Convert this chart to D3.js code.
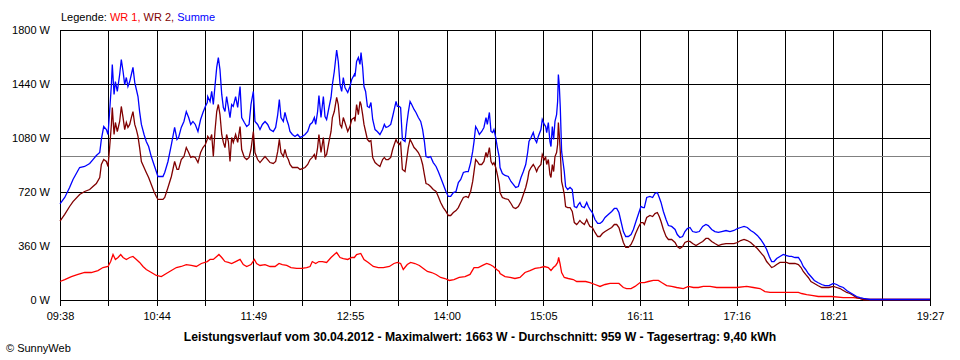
<!DOCTYPE html>
<html><head><meta charset="utf-8">
<script src="https://cdn.jsdelivr.net/npm/d3@7"></script>
<style>
body{margin:0;background:#fff;}
svg{display:block;}
text{font-family:"Liberation Sans",Arial,sans-serif;}
</style></head><body><svg id="chart" width="960" height="360"></svg>
<script>
// ---------- data ----------
const startTime = "09:38";
const endTime = "19:27";
const xTickLabels = ["09:38","10:44","11:49","12:55","14:00","15:05","16:11","17:16","18:21","19:27"];
const yTicks = [0, 360, 720, 1080, 1440, 1800];
const seriesNames = ["WR 1", "WR 2", "Summe"];
const reportDate = "30.04.2012";
const maxValue = 1663;
const average = 959;
const dailyYield = "9,40";

// minutes after start, shared by Summe and WR 2
const tMain = [
0.0,3.2,6.5,8.8,13.3,16.7,20.1,22.3,24.6,26.9,28.0,29.6,31.4,32.5,33.6,34.8,35.4,36.6,37.5,38.8,40.4,41.5,42.7,43.8,44.9,46.0,47.2,48.3,49.4,50.6,51.7,52.8,53.9,55.1,56.9,58.4,60.0,61.8,63.6,65.2,66.3,69.7,70.9,73.1,75.4,77.6,79.2,80.3,82.1,83.9,85.5,87.1,88.5,90.0,91.6,93.4,95.2,96.8,98.4,99.7,
100.0,101.6,102.7,103.8,104.9,106.1,107.2,108.3,109.5,110.6,111.7,112.8,114.0,115.1,116.2,117.3,118.9,120.3,121.9,123.0,124.8,126.4,128.0,129.3,130.9,132.0,133.8,135.4,137.0,138.8,140.6,142.2,144.4,146.0,147.4,148.5,149.6,151.2,152.3,153.5,154.6,155.7,157.3,159.1,160.9,162.5,164.1,165.9,167.7,169.3,170.8,172.2,173.1,174.4,175.3,176.7,178.3,179.4,180.5,182.1,183.5,184.4,185.7,187.3,188.4,189.6,190.7,191.8,192.9,194.8,196.3,197.5,199.3,
199.7,200.8,202.0,203.1,203.8,204.9,205.8,206.9,208.1,209.4,210.5,211.7,213.3,214.8,216.6,218.4,219.6,220.7,222.3,223.9,225.2,226.3,227.5,228.4,229.7,230.6,231.8,233.6,234.7,235.8,237.0,238.1,239.7,241.0,242.6,244.2,245.5,246.7,247.8,249.4,250.9,252.7,254.6,256.1,257.7,259.5,261.3,262.9,264.5,266.3,268.1,269.7,271.3,273.1,274.9,276.4,278.0,279.4,280.3,281.4,282.5,283.9,285.5,287.0,288.4,289.3,290.7,291.8,292.9,293.8,295.0,296.1,297.4,
297.9,299.5,301.3,303.5,305.3,306.9,308.5,310.3,312.1,313.7,315.3,316.6,317.5,318.9,320.4,321.6,322.7,323.8,325.6,326.5,327.9,328.8,329.5,330.6,331.7,332.4,333.3,334.2,335.1,336.2,336.9,337.4,338.0,338.7,339.6,340.5,341.4,342.3,343.7,345.3,346.8,348.2,349.8,350.9,352.0,353.2,355.0,356.6,357.7,358.8,360.4,362.2,364.0,365.6,367.2,369.0,371.2,373.5,375.3,376.9,378.4,379.8,381.4,383.0,384.8,386.6,388.2,389.7,391.5,393.3,394.7,395.6,
397.2,399.4,401.2,402.8,404.4,405.7,406.9,408.5,410.3,411.9,414.1,416.4,417.9,419.7,421.5,423.1,424.7,426.5,428.3,430.6,432.8,435.1,437.3,438.9,441.2,443.4,445.7,448.0,450.9,453.6,456.3,458.6,460.8,463.1,465.3,467.6,469.8,472.1,474.4,476.6,478.4,480.2,481.8,483.4,485.2,487.4,489.7,491.9,493.8,
495.3,497.6,499.9,501.7,503.2,504.8,506.6,508.4,510.7,513.0,515.7,517.9,520.6,523.6,525.8,528.1,530.3,532.6,534.8,537.1,539.3,541.6,543.9,548.4,589.0
];
const summe = [
638,680,747,800,880,887,907,933,960,980,1067,1153,1133,1100,1253,1433,1567,1367,1453,1387,1500,1600,1520,1433,1480,1420,1453,1500,1547,1447,1400,1353,1253,1167,1100,1053,1020,953,900,853,820,820,847,920,1033,1147,1067,1080,1147,1187,1253,1213,1167,1187,1167,1120,1200,1247,1287,1313,
1353,1320,1387,1300,1420,1547,1613,1533,1367,1280,1253,1353,1280,1213,1300,1287,1353,1280,1420,1213,1180,1153,1167,1300,1387,1187,1167,1133,1167,1187,1167,1133,1120,1147,1233,1333,1213,1187,1247,1200,1167,1120,1100,1087,1100,1080,1087,1100,1120,1167,1180,1213,1167,1253,1360,1213,1353,1220,1200,1280,1347,1433,1520,1663,1587,1433,1387,1480,1413,1380,1420,1467,1500,
1487,1587,1613,1567,1647,1547,1420,1387,1287,1280,1313,1200,1133,1120,1100,1133,1167,1147,1153,1167,1220,1267,1320,1287,1287,1280,1067,1053,1167,1247,1320,1300,1267,1247,1213,1187,1133,1053,953,947,953,913,887,853,813,767,720,687,687,713,720,780,800,847,853,853,913,987,1053,1153,1133,1100,1120,1147,1213,1167,1247,1120,1113,1133,1080,1013,947,
880,840,827,820,787,767,747,753,813,853,900,980,1053,1080,1113,1067,1047,1087,1133,1200,1167,1153,1113,1180,1053,1020,1153,1067,1187,1233,1320,1500,1433,1280,987,920,853,753,733,747,733,620,613,633,647,620,613,647,620,600,580,533,507,507,520,547,567,587,607,607,580,520,453,420,420,433,467,513,567,620,613,613,
680,687,680,707,713,680,647,587,533,493,487,467,433,413,420,453,473,480,453,447,453,487,500,493,467,453,447,453,460,453,460,473,480,487,480,460,447,427,400,367,333,287,253,253,273,287,300,293,287,
287,280,280,253,220,200,173,153,127,113,100,93,93,107,100,87,80,60,47,33,20,13,7,0,0
];
const wr2 = [
522,567,620,653,700,720,733,753,773,813,900,933,920,887,1013,1167,1280,1100,1180,1120,1187,1287,1213,1133,1180,1147,1167,1213,1253,1167,1133,1087,1013,920,880,847,813,767,720,687,667,667,680,747,820,920,867,867,933,953,1013,980,947,953,947,913,980,1013,1033,1067,
1087,1067,1100,953,1120,1253,1300,1233,1100,1047,1013,1100,1053,920,1080,1047,1100,1047,1153,1000,947,933,947,1000,1120,980,933,913,933,953,933,913,907,920,987,1067,980,953,1000,953,933,900,880,880,880,867,873,880,900,933,947,967,933,1013,1100,980,1080,953,967,1053,1120,1213,1253,1347,1300,1167,1147,1213,1180,1120,1153,1200,1213,
1187,1300,1233,1320,1300,1233,1167,1120,1067,1053,1060,947,913,900,887,933,947,933,933,947,1000,1033,1067,1047,1033,1047,867,853,933,1013,1067,1047,1013,1000,980,947,900,833,773,767,753,733,720,687,647,613,587,560,560,580,593,613,647,680,687,680,720,787,853,933,920,900,900,920,980,947,1013,920,900,913,880,833,767,
713,680,673,667,640,613,607,620,653,700,747,800,853,880,900,880,853,880,900,967,933,947,900,933,833,813,900,853,953,980,1033,1180,1100,987,787,747,700,620,613,613,587,513,500,513,527,513,500,533,507,487,480,447,420,420,440,453,467,480,500,500,480,433,380,347,347,367,400,440,480,513,513,500,
547,560,553,573,580,553,520,467,420,400,400,380,353,340,353,380,387,387,373,360,373,387,407,407,387,373,360,367,373,373,373,380,393,400,393,380,360,340,313,287,253,233,213,220,233,247,247,247,240,
240,240,233,213,187,167,147,120,107,93,80,80,80,87,80,73,60,47,40,27,13,7,0,0,0
];
// minutes after start for WR 1
const tWR1 = [
0,3.2,7.7,12.2,16.7,21.2,25.7,29.1,32.5,34.3,35.9,37.5,39.3,41.1,42.7,44.9,47.2,49.4,51.7,53.9,56.2,58.4,60.7,63.0,65.2,68.6,72.0,75.4,78.8,82.1,85.5,88.9,92.3,95.7,99.7,
101.6,103.8,106.1,107.6,109.5,111.7,114.0,116.2,118.9,121.9,124.1,126.4,129.3,131.6,133.1,135.4,138.8,142.2,145.6,148.3,150.5,153.5,156.4,160.2,163.6,167.0,169.3,170.8,173.1,175.3,177.6,180.5,183.5,185.7,187.3,189.6,191.8,194.8,197.5,199.3,
200.8,203.6,205.8,208.7,212.1,215.5,218.9,223.0,226.1,228.4,230.6,232.4,235.1,237.4,240.3,243.3,246.0,248.7,251.6,254.6,257.7,260.6,263.6,266.7,270.3,274.2,277.6,280.3,283.2,286.1,288.9,291.1,293.4,295.6,297.4,
297.9,301.3,304.7,308.0,311.4,314.8,318.2,321.6,325.0,327.9,330.6,332.4,334.0,335.6,336.9,337.6,338.5,339.6,341.4,344.1,347.5,349.8,352.7,355.9,358.8,362.2,365.6,369.0,372.4,375.7,378.4,381.4,383.6,386.6,389.3,392.7,395.6,
398.3,401.7,405.1,407.3,410.7,414.1,417.5,422.0,425.4,428.8,432.2,435.5,440.1,444.6,451.3,458.1,464.9,469.4,473.9,477.3,480.7,484.1,487.4,493.8,
499.9,502.1,505.5,508.9,513.4,522.4,530.3,537.1,541.6,543.9,548.4,589.0
];
const wr1 = [
120,133,153,167,180,180,193,213,220,253,300,267,280,300,280,267,280,287,267,247,220,200,187,173,160,153,173,193,213,220,233,227,220,240,253,
267,267,287,300,280,253,247,240,253,267,233,220,233,267,240,227,233,220,220,240,233,227,213,207,207,213,220,253,240,253,253,247,280,300,313,280,273,267,280,280,
300,307,267,247,220,213,213,220,240,247,240,200,233,247,240,227,207,187,180,167,147,140,127,133,147,153,167,213,213,227,240,233,220,200,187,
173,153,147,140,147,180,193,207,213,220,213,193,213,227,247,280,240,180,147,140,133,120,120,120,113,100,87,100,107,107,107,80,73,73,87,113,113,
120,127,127,113,93,87,80,73,87,80,80,87,87,80,80,80,87,80,73,53,47,47,47,47,
47,40,33,27,20,20,13,13,7,0,0,0
];

// ---------- chart ----------
const colors = {"WR 1": "#ff0000", "WR 2": "#800000", "Summe": "#0000ff"};
const toMin = s => { const [h, m] = s.split(":").map(Number); return h * 60 + m; };
const span = toMin(endTime) - toMin(startTime);

const svg = d3.select("#chart");
const L = 60, R = 930, T = 30, B = 300;
const x = d3.scaleLinear().domain([0, span]).range([L, R]);
const y = d3.scaleLinear().domain([0, d3.max(yTicks)]).range([B, T]);

const nGrid = (xTickLabels.length - 1) * 2;
const gridT = d3.range(nGrid + 1).map(i => i * span / nGrid);
const px = v => Math.round(v) + 0.5;

// horizontal grid
svg.append("g").selectAll("line").data(yTicks).join("line")
  .attr("x1", L).attr("x2", R + 1).attr("y1", d => px(y(d))).attr("y2", d => px(y(d)))
  .attr("stroke", "#000").attr("stroke-width", 1).attr("shape-rendering", "crispEdges");
// vertical grid + ticks
svg.append("g").selectAll("line").data(gridT).join("line")
  .attr("x1", d => px(x(d))).attr("x2", d => px(x(d))).attr("y1", T).attr("y2", B + 6)
  .attr("stroke", "#000").attr("stroke-width", 1).attr("shape-rendering", "crispEdges");

// average line
svg.append("line").attr("x1", L + 1).attr("x2", R).attr("y1", px(y(average))).attr("y2", px(y(average)))
  .attr("stroke", "#808080").attr("stroke-width", 1).attr("shape-rendering", "crispEdges");

// x axis labels via d3 axis
const xAxis = d3.axisBottom(x).tickValues(gridT.filter((d, i) => i % 2 === 0))
  .tickFormat((d, i) => xTickLabels[i]).tickSize(0).tickPadding(12);
const gx = svg.append("g").attr("transform", `translate(0,${B})`).call(xAxis);
gx.select(".domain").remove();
gx.selectAll("text").attr("font-size", 11).attr("fill", "#000").attr("font-family", "Liberation Sans, Arial, sans-serif");

const yAxis = d3.axisLeft(y).tickValues(yTicks).tickFormat(d => d + " W").tickSize(0).tickPadding(10);
const gy = svg.append("g").attr("transform", `translate(${L},0)`).call(yAxis);
gy.select(".domain").remove();
gy.selectAll("text").attr("font-size", 11).attr("fill", "#000").attr("font-family", "Liberation Sans, Arial, sans-serif");

// lines
const mk = (ts, vs) => ts.map((t, i) => [t, vs[i]]);
const series = [
  {name: "WR 1", pts: mk(tWR1, wr1)},
  {name: "WR 2", pts: mk(tMain, wr2)},
  {name: "Summe", pts: mk(tMain, summe)}
];
const line = d3.line().x(d => x(d[0])).y(d => y(d[1]) - 0.5);
svg.append("g").selectAll("path").data(series).join("path")
  .attr("d", d => line(d.pts)).attr("fill", "none")
  .attr("stroke", d => colors[d.name]).attr("stroke-width", 1.3).attr("stroke-linejoin", "miter");

// legend
const leg = svg.append("text").attr("x", 61).attr("y", 21).attr("font-size", 11);
leg.append("tspan").text("Legende: ").attr("fill", "#000");
seriesNames.forEach((n, i) => {
  leg.append("tspan").text(n + (i < seriesNames.length - 1 ? ", " : "")).attr("fill", colors[n]);
});

// title
svg.append("text").attr("x", 480).attr("y", 341).attr("text-anchor", "middle")
  .attr("font-size", 12.2).attr("font-weight", "bold")
  .text(`Leistungsverlauf vom ${reportDate} - Maximalwert: ${maxValue} W - Durchschnitt: ${average} W - Tagesertrag: ${dailyYield} kWh`);

svg.append("text").attr("x", 6).attr("y", 352).attr("font-size", 11).text("© SunnyWeb");
</script></body></html>
